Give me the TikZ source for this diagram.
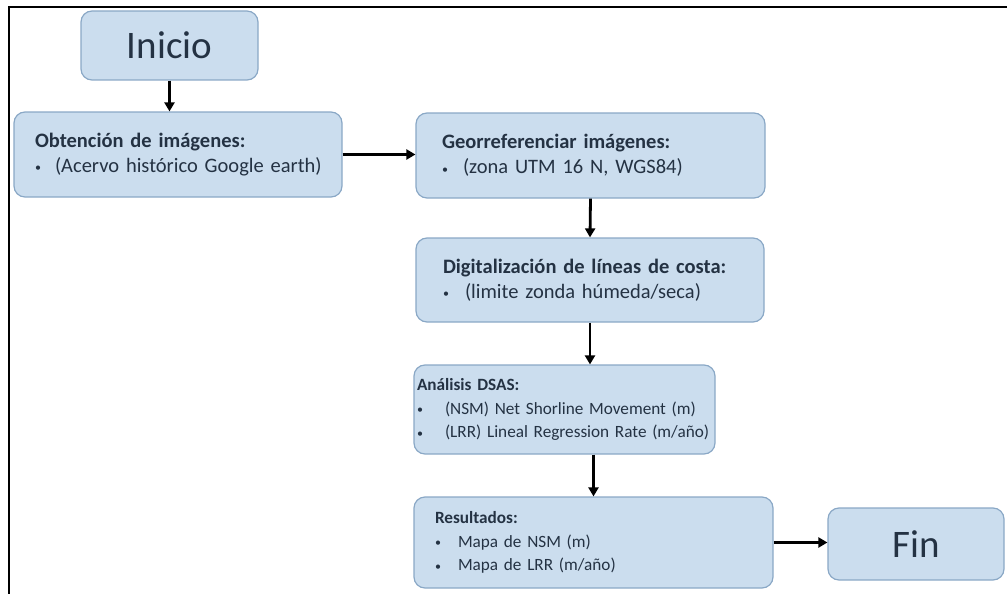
\documentclass[tikz,border=0pt]{standalone}
\usepackage{fontspec}
\setmainfont{Carlito}
\usetikzlibrary{arrows.meta}
\definecolor{boxfill}{HTML}{CBDDEE}
\definecolor{boxline}{HTML}{8AA8C6}
\definecolor{txt}{HTML}{243243}
\newcommand{\bul}[2][20pt]{\mbox{\makebox[#1][l]{\raisebox{0.05ex}{\fontsize{12}{12}\selectfont\textbullet}}#2}}
\tikzset{
  box/.style={draw=boxline, line width=1.2pt, fill=boxfill, rounded corners=11pt,
    text=txt, align=left, inner ysep=0pt},
  fa/.style={font=\fontsize{20.5}{25}\selectfont},
  fb/.style={font=\fontsize{17.2}{23.5}\selectfont},
  bigbox/.style={draw=boxline, line width=1.2pt, fill=boxfill, rounded corners=11pt,
    text=txt, font=\fontsize{39}{42}\selectfont, inner sep=0pt},
  arr/.style={line width=2.8pt, -{Triangle[length=9pt,width=10pt]}},
  frameline/.style={line width=2.2pt, black}
}
\begin{document}
\begin{tikzpicture}[x=1pt,y=-1pt]
\useasboundingbox (0,0) rectangle (1007,594);
\draw[frameline] (9,594) -- (9,7) -- (1007,7);

\node[bigbox, minimum width=177pt, minimum height=69pt] (inicio) at (169.5,45.5) {Inicio};

\node[box, fa, minimum height=85pt, inner xsep=21pt, text width=286pt] (obt) at (178,154.5)
  {\textbf{Obtención de imágenes:}\\ \bul{(Acervo histórico Google earth)}};

\node[box, fa, minimum height=85pt, inner xsep=26pt, text width=297pt] (geo) at (590.5,155.5)
  {\textbf{Georreferenciar imágenes:}\\ \bul[21pt]{(zona UTM 16 N, WGS84)}};

\node[box, fa, minimum height=84pt, inner xsep=27pt, text width=294pt] (dig) at (590,280)
  {\textbf{Digitalización de líneas de costa:}\\ \bul[22pt]{(limite zonda húmeda/seca)}};

\node[box, fb, minimum height=89pt, inner xsep=3pt, text width=295pt] (dsas) at (564.5,409.5)
  {\textbf{Análisis DSAS:}\\ \bul[28pt]{(NSM) Net Shorline Movement (m)}\\ \bul[28pt]{(LRR) Lineal Regression Rate (m/año)}};

\node[box, fb, minimum height=91pt, inner xsep=21pt, text width=317pt] (res) at (593.5,542.5)
  {\textbf{Resultados:}\\ \bul[23pt]{Mapa de NSM (m)}\\ \bul[23pt]{Mapa de LRR (m/año)}};

\node[bigbox, minimum width=176pt, minimum height=72pt] (fin) at (916,544) {Fin};

\draw[arr] (inicio.south) -- (obt.north -| inicio.south);
\draw[arr] (obt.east) -- (geo.west |- obt.east);
\draw[arr] (geo.south) -- (dig.north);
\draw[arr] (dig.south) -- (dig.south |- dsas.north);
\draw[arr] (dsas.south -| res.north) -- (res.north);
\draw[arr] (res.east) -- (fin.west |- res.east);
\end{tikzpicture}
\end{document}
